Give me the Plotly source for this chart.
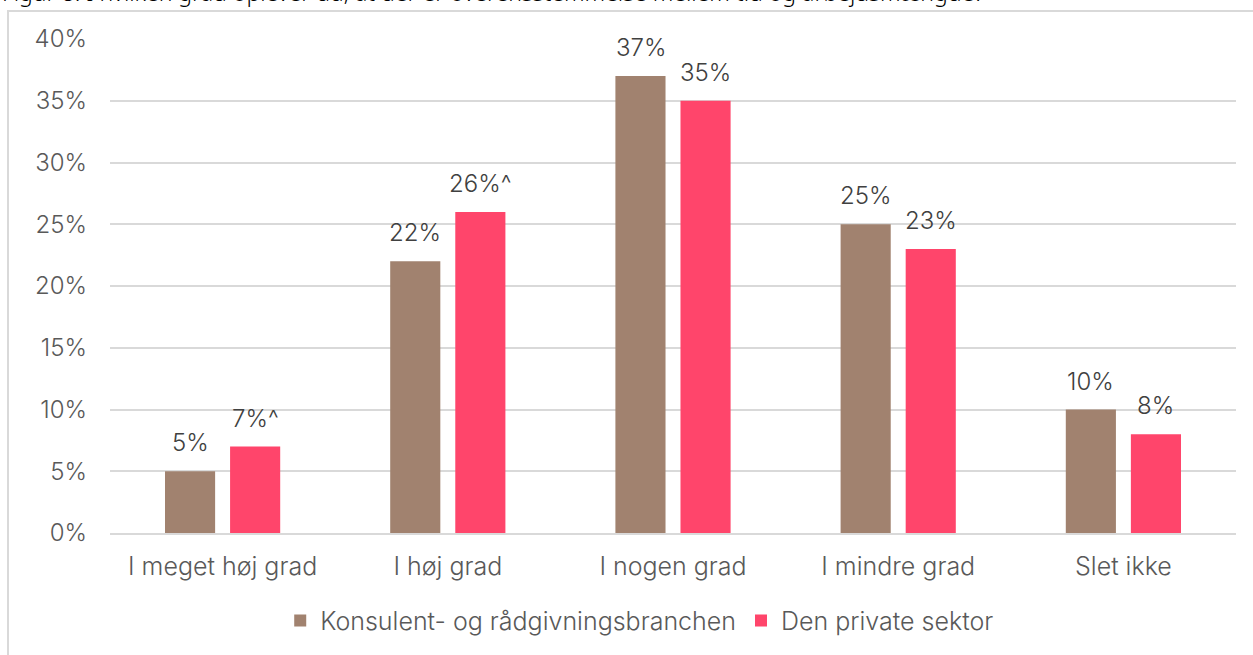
import plotly.graph_objects as go

categories = ["I meget høj grad", "I høj grad", "I nogen grad", "I mindre grad", "Slet ikke"]
konsulent = [0.05, 0.22, 0.37, 0.25, 0.10]
privat = [0.07, 0.26, 0.35, 0.23, 0.08]
konsulent_labels = ["5%", "22%", "37%", "25%", "10%"]
privat_labels = ["7%^", "26%^", "35%", "23%", "8%"]
y_ticks = [0, 0.05, 0.10, 0.15, 0.20, 0.25, 0.30, 0.35, 0.40]
y_ticktext = ["0%", "5%", "10%", "15%", "20%", "25%", "30%", "35%", "40%"]

BROWN = "#a1826f"
PINK = "#ff456b"
GREY = "#595959"
FONT = "Inter"
FS = 24

fig = go.Figure()
fig.add_trace(go.Bar(x=categories, y=konsulent, name="Konsulent- og rådgivningsbranchen",
                     marker=dict(color=BROWN, line=dict(width=0))))
fig.add_trace(go.Bar(x=categories, y=privat, name="Den private sektor",
                     marker=dict(color=PINK, line=dict(width=0))))

# value labels above bars
for series, labels, shift in [(konsulent, konsulent_labels, -32.5), (privat, privat_labels, 32.5)]:
    for cat, val, lab in zip(categories, series, labels):
        fig.add_annotation(x=cat, y=val, text=lab, showarrow=False, xshift=shift, yshift=12,
                           yanchor="bottom", font=dict(family=FONT, size=FS, color="#404040", weight=300))

# title, cut off at top as in the source image
fig.add_annotation(xref="paper", yref="paper", x=-0.0977, y=1.058, xanchor="left", yanchor="bottom",
                   text="Figur 8: I hvilken grad oplever du, at der er overensstemmelse mellem tid og arbejdsmængde?",
                   showarrow=False, font=dict(family="Noto Sans", size=23, color="#000000"))

# chart frame
fig.add_shape(type="rect", xref="paper", yref="paper", x0=-0.0906, x1=1.1, y0=-0.4, y1=1.0566,
              line=dict(color="#d9d9d9", width=2), fillcolor="rgba(0,0,0,0)", layer="below")

fig.update_layout(
    width=1253, height=655,
    margin=dict(l=110, r=17, t=39, b=121),
    paper_bgcolor="white", plot_bgcolor="white",
    barmode="group", bargap=0.422, bargroupgap=0.23,
    font=dict(family=FONT, size=FS, color=GREY, weight=300),
    legend=dict(orientation="h", x=0.47, xanchor="center", y=-0.175, yanchor="middle",
                font=dict(family=FONT, size=25, color=GREY, weight=300), itemwidth=30,
                traceorder="normal"),
    showlegend=True,
)
fig.update_yaxes(range=[0, 0.4], tickvals=y_ticks, ticktext=y_ticktext, showgrid=True,
                 gridcolor="#d9d9d9", gridwidth=2, zeroline=False, showline=False,
                 ticklabelstandoff=22, tickfont=dict(family=FONT, size=FS, color=GREY, weight=300))
fig.update_xaxes(showgrid=False, showline=True, linecolor="#d9d9d9", linewidth=2,
                 ticks="outside", ticklen=10, tickcolor="rgba(0,0,0,0)",
                 tickfont=dict(family=FONT, size=25, color=GREY, weight=300))

fig.write_html("out.html", config={"displayModeBar": False},
               post_script="document.body.style.margin='0';")
